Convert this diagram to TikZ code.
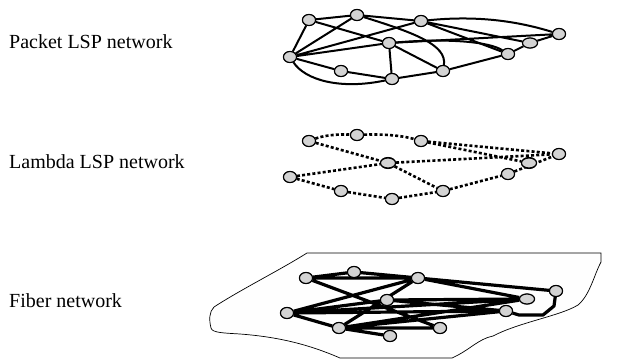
\documentclass[tikz,border=0pt]{standalone}
\usepackage{fontspec}
\setmainfont{Liberation Serif}
\usetikzlibrary{shapes.geometric}
\definecolor{nodegray}{HTML}{D3D3D3}
\definecolor{planefill}{HTML}{FEFEFE}
\tikzset{
  vertex/.style={ellipse, draw=black, line width=1.1pt, fill=nodegray,
    minimum width=13pt, minimum height=11pt, inner sep=0pt},
  wide/.style={minimum width=15pt, minimum height=10pt},
  packet/.style={line width=2pt},
  lambda/.style={line width=2.6pt, dash pattern=on 3pt off 2.2pt},
  fiber/.style={line width=3.2pt, line join=round},
  body/.style={fill=nodegray, draw=black, line width=1.1pt},
  layername/.style={anchor=base west, inner sep=0pt, font=\fontsize{20}{24}\selectfont}
}
\begin{document}
\begin{tikzpicture}[x=1pt, y=-1pt]
\useasboundingbox (0,0) rectangle (627,359);

% layer names
\node[layername] (lp) at (9,48) {Packet LSP network};
\node[layername] (ll) at (9,168) {Lambda LSP network};
\node[layername] (lf) at (9,307) {Fiber network};

% ---------- packet LSP layer ----------
\node[vertex] (A) at (309,20) {};
\node[vertex] (B) at (357,15) {};
\node[vertex] (C) at (421,21) {};
\node[vertex] (D) at (290,57) {};
\node[vertex] (E) at (389,43) {};
\node[vertex] (F) at (341,71) {};
\node[vertex] (G) at (392,79) {};
\node[vertex] (H) at (443,71) {};
\node[vertex] (I) at (508,54) {};
\node[vertex,wide] (J) at (530,43) {};
\node[vertex] (K) at (559,34) {};

\draw[packet] (A) -- (B) (B) -- (C) (A) -- (D) (A) -- (E)
  (D) -- (B) (D) -- (C) (D) -- (E) (D) -- (F) (F) -- (G) (E) -- (G)
  (G) -- (H) (E) -- (H) (E) -- (K) (C) -- (J) (C) -- (I) (H) -- (I)
  (I) -- (J) (J) -- (K);
\draw[packet] (D) .. controls (305,80) and (340,90) .. (G);
\draw[packet] (B) .. controls (415,33) and (447,45) .. (H);
\draw[packet] (C) .. controls (480,15) and (520,22) .. (K);
\draw[packet] (E) .. controls (450,38) and (490,42) .. (I);

% ---------- lambda LSP layer ----------
\node[vertex] (a) at (309,141) {};
\node[vertex] (b) at (357,135) {};
\node[vertex] (c) at (421,141) {};
\node[vertex] (d) at (290,177) {};
\node[vertex,minimum width=15pt] (e) at (388,163) {};
\node[vertex] (f) at (341,191) {};
\node[vertex] (g) at (392,199) {};
\node[vertex] (h) at (443,191) {};
\node[vertex] (i) at (508,174) {};
\node[vertex,minimum width=15pt] (j) at (529,163) {};
\node[vertex] (k) at (559,154) {};

\draw[lambda] (a) .. controls (325,135) and (340,134) .. (b);
\draw[lambda] (b) .. controls (380,134) and (400,135) .. (c);
\draw[lambda] (a) -- (e) (e) -- (h) (d) -- (e) (e) -- (k) (c) -- (k)
  (c) -- (j) (d) -- (f) (f) -- (g) (g) -- (h) (h) -- (i) (i) -- (k);

% ---------- fiber layer ----------
\draw[line width=0.7pt, fill=planefill]
  (307,253) -- (601,253) -- (601,262)
  .. controls (594,275) and (590,295) .. (578,305)
  .. controls (560,316) and (520,322) .. (493,336)
  .. controls (478,339) and (470,350) .. (452,358)
  -- (340,358)
  .. controls (310,345) and (280,337) .. (240,334)
  .. controls (225,333) and (212,333) .. (211,328)
  .. controls (209,320) and (209,312) .. (214,307)
  .. controls (240,290) and (280,270) .. cycle;

\node[vertex] (FA) at (306,278) {};
\node[vertex] (FB) at (354,272) {};
\node[vertex] (FC) at (418,278) {};
\node[vertex] (FD) at (287,313) {};
\node[vertex] (FE) at (387,300) {};
\node[vertex] (FF) at (339,328) {};
\node[vertex] (FG) at (390,336) {};
\node[vertex] (FH) at (440,328) {};
\node[vertex] (FI) at (506,311) {};
\node[vertex,wide] (FJ) at (527,299) {};
\node[vertex] (FK) at (556,291) {};

\coordinate (q1) at (519,315);
\coordinate (q2) at (543,315);
\coordinate (q3) at (554,306);

\draw[fiber] (FA) -- (FB) (FB) -- (FC) (FA) -- (FC) (FA) -- (FH)
  (FC) -- (FD) (FC) -- (FF) (FC) -- (FK) (FC) -- (FJ)
  (FD) -- (FE) (FD) -- (FJ) (FD) -- (FI) (FD) -- (FF)
  (FE) -- (FJ) (FE) -- (FI) (FF) -- (FI) (FF) -- (FJ)
  (FF) -- (FH) (FF) -- (FG);
\draw[fiber] (FI) -- (q1) -- (q2) -- (q3) -- (FK);

% node bodies drawn again on top of the links
\foreach \n in {A,B,C,D,E,F,G,H,I,K,a,b,c,d,f,g,h,i,k,FA,FB,FC,FD,FE,FF,FG,FH,FI,FK}
  \path[body] (\n.center) ellipse [x radius=6.5pt, y radius=5.5pt];
\foreach \n in {J,e,j,FJ}
  \path[body] (\n.center) ellipse [x radius=7.5pt, y radius=5pt];
\end{tikzpicture}
\end{document}
